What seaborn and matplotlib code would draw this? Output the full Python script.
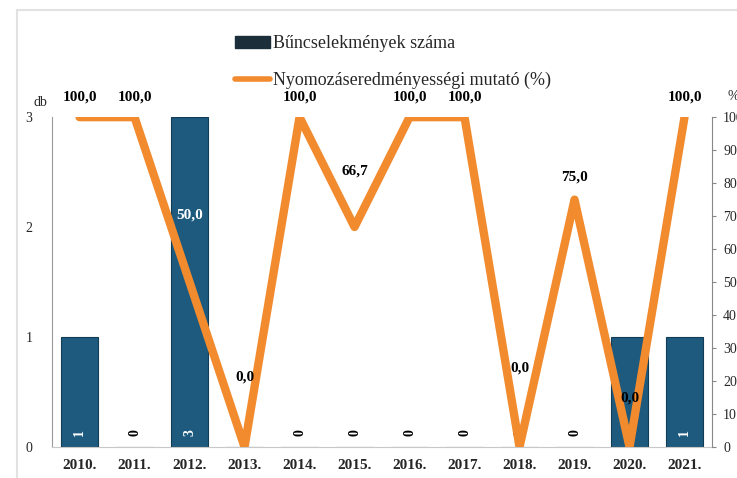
import numpy as np
import pandas as pd
import matplotlib.pyplot as plt
import seaborn as sns
from matplotlib.lines import Line2D
from matplotlib.patches import Patch

# Data
years = ["2010.", "2011.", "2012.", "2013.", "2014.", "2015.",
         "2016.", "2017.", "2018.", "2019.", "2020.", "2021."]
crimes = [1, 0, 3, 0, 0, 0, 0, 0, 0, 0, 1, 1]
rate = [100.0, 100.0, 50.0, 0.0, 100.0, 66.7, 100.0, 100.0, 0.0, 75.0, 0.0, 100.0]

# label offsets above the line points (pixels), hand placed like the original
label_offsets = [20, 20, 67, 70, 20, 56, 20, 20, 79, 23, 49, 20]

bar_color = "#1d5a7e"
line_color = "#f28a2e"

df = pd.DataFrame({"year": years, "crimes": crimes, "rate": rate})
df["pos"] = np.arange(len(df))

sns.set_style("white")
plt.rcParams["font.family"] = ["Liberation Serif", "DejaVu Serif"]
plt.rcParams["font.style"] = "normal"

fig = plt.figure(figsize=(7.37, 4.78), dpi=100)
ax = fig.add_axes([0.0706, 0.0649, 0.8955, 0.690])

sns.barplot(data=df, x="year", y="crimes", color=bar_color, width=0.67,
            saturation=1, edgecolor="#123c56", linewidth=0.8, ax=ax)
ax.set_ylim(0, 3)
ax.set_xlim(-0.5, len(years) - 0.5)
ax.set_yticks([0, 1, 2, 3])
ax.set_yticklabels(["0", "1", "2", "3"], fontsize=10)
ax.set_xlabel("")
ax.set_ylabel("")
ax.tick_params(axis="x", length=0, pad=9)
for t in ax.get_xticklabels():
    t.set_fontweight("bold")
    t.set_fontsize(11)
ax.tick_params(axis="y", length=0, pad=14)
for s in ["top", "right"]:
    ax.spines[s].set_visible(False)
ax.spines["left"].set_color("#9a9a9a")
ax.spines["bottom"].set_color("#c8c8c8")

# bar value labels, rotated, near the bottom
for i, v in enumerate(crimes):
    ax.text(i, 0.13, str(v), rotation=90, ha="center", va="center",
            fontsize=10, color="white" if v > 0 else "black", fontweight="bold")

ax2 = ax.twinx()
ax2.set_position(ax.get_position())
sns.lineplot(data=df, x="pos", y="rate", color=line_color, linewidth=6,
             ax=ax2, legend=False)
ax2.set_ylim(0, 100)
ax2.set_yticks(range(0, 101, 10))
ax2.set_yticklabels([str(v) for v in range(0, 101, 10)], fontsize=10)
ax2.set_ylabel("")
ax2.set_xlabel("")
ax2.tick_params(axis="y", length=3, color="#888888", pad=5)
for s in ["top", "left", "bottom"]:
    ax2.spines[s].set_visible(False)
ax2.spines["right"].set_color("#888888")
ax2.set_xlim(-0.5, len(years) - 0.5)

for i, (v, off) in enumerate(zip(rate, label_offsets)):
    txt = f"{v:.1f}".replace(".", ",")
    ax2.annotate(txt, (i, v), xytext=(0, off * 0.72), textcoords="offset points",
                 ha="center", va="center", fontsize=11, fontweight="bold",
                 color="white" if i == 2 else "black", clip_on=False)

fig.text(40 / 737, 1 - 103 / 478, "db", fontsize=10, ha="center", va="center")
fig.text(727 / 737, 1 - 97 / 478, "%", fontsize=10, ha="left", va="center")

handles = [Patch(facecolor="#1b2e3a", edgecolor="#1b2e3a"),
           Line2D([0], [0], color=line_color, linewidth=4)]
fig.legend(handles, ["Bűncselekmények száma", "Nyomozáseredményességi mutató (%)"],
           loc="upper left", bbox_to_anchor=(228 / 737, 1 - 28 / 478),
           frameon=False, prop={"family": "Liberation Serif", "style": "normal", "size": 13},
           handlelength=1.95, handleheight=0.6,
           handletextpad=0.15, labelspacing=1.1, borderaxespad=0)

# faint scan frame
fig.add_artist(Line2D([17 / 737, 17 / 737], [0, 1 - 10 / 478], color="#e2e2e2", lw=1.5,
                      transform=fig.transFigure))
fig.add_artist(Line2D([17 / 737, 1], [1 - 10 / 478, 1 - 10 / 478], color="#e2e2e2", lw=1.5,
                      transform=fig.transFigure))

fig.savefig("out.png", dpi=100)
